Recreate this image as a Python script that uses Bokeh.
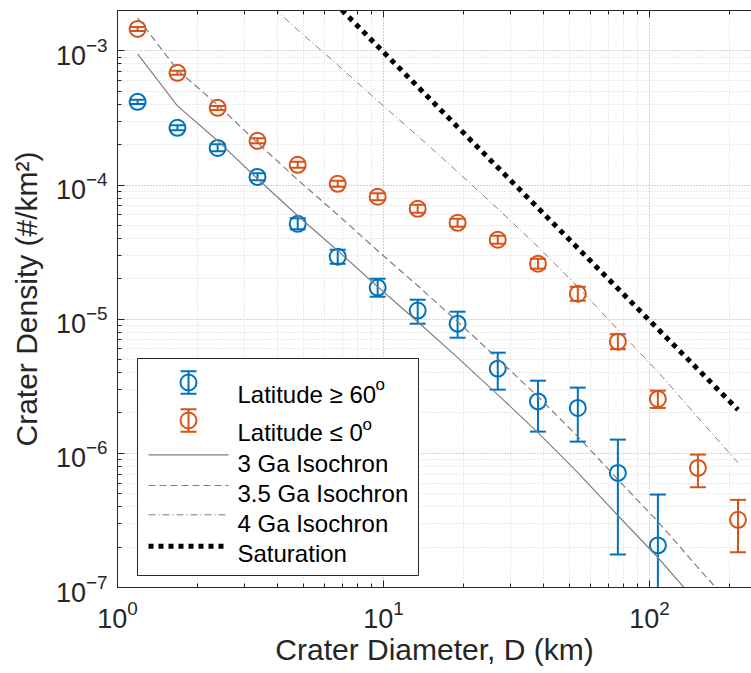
from bokeh.plotting import figure
from bokeh.models import Range1d, LinearScale, LogAxis, LogTicker
from bokeh.embed import file_html
from bokeh.resources import INLINE
from bokeh.core.properties import value

# ---------------- data ----------------
diam_km = [1.19, 1.68, 2.38, 3.36, 4.76, 6.73, 9.51, 13.45, 19.0, 26.9,
           38.1, 53.8, 76.1, 107.6, 152.2, 215.3]

blue_diam = diam_km[:14]
blue_density = [4.17e-4, 2.67e-4, 1.89e-4, 1.15e-4, 5.14e-5, 2.92e-5, 1.72e-5,
                1.16e-5, 9.26e-6, 4.28e-6, 2.44e-6, 2.18e-6, 7.15e-7, 2.06e-7]
blue_upper = [4.33e-4, 2.786e-4, 2.011e-4, 1.223e-4, 5.65e-5, 3.294e-5, 2.003e-5,
              1.397e-5, 1.137e-5, 5.63e-6, 3.48e-6, 3.09e-6, 1.266e-6, 4.93e-7]
blue_lower = [4.015e-4, 2.557e-4, 1.784e-4, 1.085e-4, 4.68e-5, 2.59e-5, 1.471e-5,
              9.26e-6, 7.28e-6, 2.985e-6, 1.452e-6, 1.223e-6, 1.762e-7, 1e-9]

orange_diam = diam_km
orange_density = [1.458e-3, 6.86e-4, 3.76e-4, 2.136e-4, 1.415e-4, 1.022e-4, 8.18e-5,
                  6.65e-5, 5.23e-5, 3.91e-5, 2.59e-5, 1.548e-5, 6.80e-6, 2.544e-6,
                  7.79e-7, 3.195e-7]
orange_upper = [1.509e-3, 7.10e-4, 3.89e-4, 2.23e-4, 1.490e-4, 1.076e-4, 8.69e-5,
                7.12e-5, 5.60e-5, 4.19e-5, 2.82e-5, 1.745e-5, 7.73e-6, 2.934e-6,
                9.79e-7, 4.50e-7]
orange_lower = [1.409e-3, 6.63e-4, 3.63e-4, 2.046e-4, 1.344e-4, 9.71e-5, 7.70e-5,
                6.21e-5, 4.88e-5, 3.65e-5, 2.38e-5, 1.373e-5, 5.98e-6, 2.18e-6,
                5.59e-7, 1.832e-7]

iso_3ga = [9.50e-4, 3.89e-4, 2.136e-4, 1.113e-4, 5.90e-5, 3.237e-5, 1.746e-5,
           9.58e-6, 5.17e-6, 2.74e-6, 1.428e-6, 7.19e-7, 3.44e-7, 1.673e-7,
           7.60e-8, 3.51e-8]
iso_35ga = [1.761e-3, 7.21e-4, 3.96e-4, 2.064e-4, 1.094e-4, 6.00e-5, 3.24e-5,
            1.776e-5, 9.59e-6, 5.08e-6, 2.648e-6, 1.333e-6, 6.38e-7, 3.10e-7,
            1.409e-7, 6.51e-8]
iso_4ga = [2.306e-2, 9.44e-3, 5.18e-3, 2.70e-3, 1.432e-3, 7.86e-4, 4.24e-4,
           2.325e-4, 1.255e-4, 6.65e-5, 3.466e-5, 1.745e-5, 8.35e-6, 4.06e-6,
           1.845e-6, 8.52e-7]
saturation = [6.92e-2, 3.47e-2, 1.73e-2, 8.68e-3, 4.33e-3, 2.164e-3, 1.084e-3,
              5.42e-4, 2.71e-4, 1.354e-4, 6.75e-5, 3.386e-5, 1.692e-5, 8.46e-6,
              4.23e-6, 2.114e-6]

legend_labels = ["Latitude \u2265 60", "Latitude \u2264 0", "3 Ga Isochron",
                 "3.5 Ga Isochron", "4 Ga Isochron", "Saturation"]

# ---------------- styling ----------------
BLUE = "#0072BD"
ORANGE = "#D95319"
GRAY = "#808080"
AXC = "#262626"
FONT = "Liberation Sans"

p = figure(width=751, height=673, x_axis_type="log", y_axis_type="log",
           x_range=Range1d(1, 242), y_range=Range1d(1e-7, 2e-3),
           output_backend="svg", toolbar_location=None,
           min_border_left=117, min_border_right=0, min_border_top=10,
           min_border_bottom=86, outline_line_color=None,
           background_fill_color="white", border_fill_color="white")

xt = LogTicker(mantissas=[1], num_minor_ticks=10)
yt = LogTicker(mantissas=[1], num_minor_ticks=10)
p.xaxis.ticker = xt
p.yaxis.ticker = yt
p.xgrid.ticker = xt
p.ygrid.ticker = yt

for ax in (p.xaxis, p.yaxis):
    ax.axis_line_color = AXC
    ax.major_tick_line_color = AXC
    ax.minor_tick_line_color = AXC
    ax.major_tick_in = 7
    ax.major_tick_out = 0
    ax.minor_tick_in = 4
    ax.minor_tick_out = 0
    ax.major_label_text_font = FONT
    ax.major_label_text_font_size = "27px"
    ax.major_label_text_color = AXC
    ax.axis_label_text_font = FONT
    ax.axis_label_text_font_size = "30px"
    ax.axis_label_text_font_style = "normal"
    ax.axis_label_text_color = AXC

p.xaxis.axis_label = "Crater Diameter, D (km)"
p.yaxis.axis_label = "Crater Density (#/km\u00b2)"
p.xaxis.major_label_standoff = 12
p.yaxis.major_label_standoff = 10
p.xaxis.axis_label_standoff = 2
p.yaxis.axis_label_standoff = 10

top_axis = LogAxis(ticker=xt, axis_line_color=AXC, major_tick_line_color=AXC,
                   minor_tick_line_color=AXC, major_tick_in=7, major_tick_out=0,
                   minor_tick_in=4, minor_tick_out=0,
                   major_label_text_font_size="2px", major_label_text_alpha=0,
                   major_label_standoff=0)
p.add_layout(top_axis, "above")

for g in (p.xgrid, p.ygrid):
    g.grid_line_color = "#c4c4c4"
    g.grid_line_dash = "1 2"
    g.grid_line_width = 1
    g.minor_grid_line_color = "#d6d6d6"
    g.minor_grid_line_dash = "1 2"
    g.minor_grid_line_width = 1

# ---------------- error bars + markers ----------------
def errorbars(xs, ys, lo, hi, color):
    p.segment(x0=xs, y0=lo, x1=xs, y1=hi, line_color=color, line_width=2)
    p.scatter(xs, hi, marker="dash", size=16, line_color=color, line_width=2)
    p.scatter(xs, lo, marker="dash", size=16, line_color=color, line_width=2)
    p.scatter(xs, ys, marker="circle", size=16, fill_color=None,
              line_color=color, line_width=2)

errorbars(blue_diam, blue_density, blue_lower, blue_upper, BLUE)
errorbars(orange_diam, orange_density, orange_lower, orange_upper, ORANGE)

# ---------------- isochrons + saturation ----------------
p.line(diam_km, iso_3ga, line_color=GRAY, line_width=1.2)
p.line(diam_km, iso_35ga, line_color=GRAY, line_width=1.2, line_dash="7 4")
p.line(diam_km, iso_4ga, line_color=GRAY, line_width=1.0, line_dash="7 3 1 3")
p.line(diam_km, saturation, line_color="black", line_width=5, line_dash="5 5")

# ---------------- legend (drawn in pixel-like extra ranges) ----------------
p.extra_x_ranges = {"px": Range1d(117, 751)}
p.extra_y_ranges = {"px": Range1d(587, 10)}
p.extra_x_scales = {"px": LinearScale()}
p.extra_y_scales = {"px": LinearScale()}
kw = dict(x_range_name="px", y_range_name="px")

p.quad(left=[137], right=[418], top=[358], bottom=[575], fill_color="white",
       line_color=AXC, line_width=1, **kw)

icon_x = 188
for cy, color in ((382, BLUE), (420, ORANGE)):
    p.segment(x0=[icon_x], y0=[cy - 11.3], x1=[icon_x], y1=[cy + 11.3],
              line_color=color, line_width=2, **kw)
    p.scatter([icon_x, icon_x], [cy - 11.3, cy + 11.3], marker="dash", size=16,
              line_color=color, line_width=2, **kw)
    p.scatter([icon_x], [cy], marker="circle", size=16, fill_color=None,
              line_color=color, line_width=2, **kw)

p.line([148, 228], [454.3, 454.3], line_color=GRAY, line_width=1.2, **kw)
p.line([148, 228], [485, 485], line_color=GRAY, line_width=1.2, line_dash="7 4", **kw)
p.line([148, 228], [514.3, 514.3], line_color=GRAY, line_width=1.0,
       line_dash="7 3 1 3", **kw)
p.line([148, 228], [545.7, 545.7], line_color="black", line_width=5,
       line_dash="5 5", **kw)

p.text(x=[237] * 6, y=[394, 431.7, 462.7, 493.3, 522.7, 553.3], text=legend_labels,
       text_font=value(FONT), text_font_size="24px", text_color="black",
       text_baseline="alphabetic", text_align="left", **kw)
p.text(x=[375, 362], y=[383.5, 423.5], text=["o", "o"], text_font=value(FONT),
       text_font_size="17px", text_color="black", text_baseline="alphabetic",
       text_align="left", **kw)

open("out.html", "w").write(file_html(p, INLINE))
